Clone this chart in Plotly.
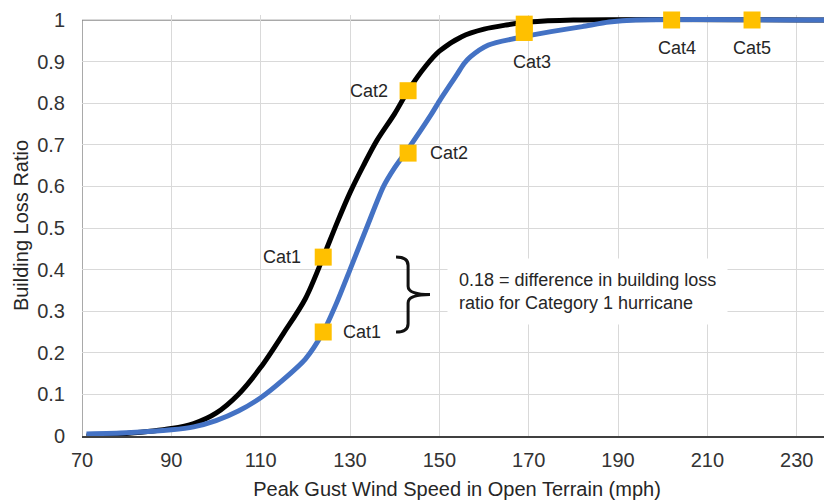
import plotly.graph_objects as go

# ---- data ----
speed_black = [71, 80, 90, 95, 100, 105, 110, 115, 120, 124, 127, 130, 133, 136, 140, 143, 147, 150, 155, 160, 165, 170, 180, 238]
loss_black = [0.0, 0.006, 0.018, 0.03, 0.055, 0.10, 0.165, 0.245, 0.33, 0.43, 0.51, 0.585, 0.65, 0.71, 0.775, 0.83, 0.89, 0.925, 0.96, 0.978, 0.988, 0.995, 1.0, 1.0]

speed_blue = [71, 80, 90, 95, 100, 105, 110, 115, 120, 124, 127, 130, 133.7, 137.5, 140, 143, 148, 150, 154, 155.5, 157, 161, 168, 175, 182, 188, 194, 238]
loss_blue = [0.005, 0.008, 0.015, 0.022, 0.037, 0.06, 0.092, 0.135, 0.185, 0.25, 0.32, 0.40, 0.50, 0.60, 0.645, 0.69, 0.77, 0.805, 0.87, 0.895, 0.912, 0.94, 0.958, 0.972, 0.984, 0.995, 1.0, 1.0]

cat_speed = [124, 143, 169, 202, 220]
cat_loss_black = [0.43, 0.83, 0.99, 1.0, 1.0]
cat_loss_blue = [0.25, 0.68, 0.97]
cat_names = ["Cat1", "Cat2", "Cat3", "Cat4", "Cat5"]

x_ticks = [70, 90, 110, 130, 150, 170, 190, 210, 230]
y_ticks = [0, 0.1, 0.2, 0.3, 0.4, 0.5, 0.6, 0.7, 0.8, 0.9, 1]
y_tick_text = ["0", "0.1", "0.2", "0.3", "0.4", "0.5", "0.6", "0.7", "0.8", "0.9", "1"]

note_text = "0.18 = difference in building loss<br>ratio for Category 1 hurricane"

FONT = "Liberation Sans, Arial, sans-serif"
TXT = "#262626"
X_MAX = 237.9
Y_MAX = 1.012

fig = go.Figure()

fig.add_trace(go.Scatter(x=speed_black, y=loss_black, mode="lines",
                         line=dict(color="#000000", width=5, shape="spline", smoothing=0.9),
                         hoverinfo="skip", showlegend=False))
fig.add_trace(go.Scatter(x=speed_blue, y=loss_blue, mode="lines",
                         line=dict(color="#4472C4", width=5, shape="spline", smoothing=0.7),
                         hoverinfo="skip", showlegend=False))
fig.add_trace(go.Scatter(x=cat_speed, y=cat_loss_black, mode="markers",
                         marker=dict(symbol="square", size=17, color="#FFC000"),
                         cliponaxis=False, hoverinfo="skip", showlegend=False))
fig.add_trace(go.Scatter(x=cat_speed[:3], y=cat_loss_blue, mode="markers",
                         marker=dict(symbol="square", size=17, color="#FFC000"),
                         cliponaxis=False, hoverinfo="skip", showlegend=False))

# category labels
label_specs = [
    (cat_speed[0], cat_loss_black[0], cat_names[0], -41, 0),
    (cat_speed[0], cat_loss_blue[0], cat_names[0], 39, 0),
    (cat_speed[1], cat_loss_black[1], cat_names[1], -39, 0),
    (cat_speed[1], cat_loss_blue[1], cat_names[1], 41, 0),
    (cat_speed[2], cat_loss_blue[2], cat_names[2], 8, -30),
    (cat_speed[3], cat_loss_black[3], cat_names[3], 5, -28),
    (cat_speed[4], cat_loss_black[4], cat_names[4], 0, -28),
]
for x, y, t, xs, ys in label_specs:
    fig.add_annotation(x=x, y=y, text=t, showarrow=False, xshift=xs, yshift=ys,
                       font=dict(family=FONT, size=18, color=TXT))

# brace between Cat1 points
y_top, y_bot = cat_loss_black[0], cat_loss_blue[0]
y_mid = (y_top + y_bot) / 2
xa, xb, xt = 140.3, 143.0, 147.9
d = 0.02
brace = (f"M {xa},{y_top} Q {xb},{y_top} {xb},{y_top-d} "
         f"L {xb},{y_mid+d} Q {xb},{y_mid} {xt},{y_mid} "
         f"Q {xb},{y_mid} {xb},{y_mid-d} "
         f"L {xb},{y_bot+d} Q {xb},{y_bot} {xa},{y_bot}")

fig.add_annotation(x=151.7, y=y_mid + 0.007, xanchor="left", yanchor="middle",
                   text=note_text, showarrow=False, align="left",
                   bgcolor="white", borderpad=11,
                   font=dict(family=FONT, size=18, color=TXT))

# page body has an 8px default margin, so the figure is 8px smaller
fig.update_layout(
    width=824, height=492,
    margin=dict(l=74, r=0, t=7, b=64, autoexpand=False),
    paper_bgcolor="white", plot_bgcolor="white",
    font=dict(family=FONT, color=TXT),
    shapes=[
        dict(type="line", xref="x", yref="y", x0=70, x1=X_MAX, y0=1, y1=1,
             line=dict(color="#8c8c8c", width=1.5), layer="below"),
        dict(type="line", xref="x", yref="y", x0=70, x1=70, y0=0, y1=1,
             line=dict(color="#8c8c8c", width=1.5), layer="below"),
        dict(type="path", xref="x", yref="y", path=brace,
             line=dict(color="#111111", width=3), layer="above"),
    ],
    xaxis=dict(range=[70, X_MAX], tickvals=x_ticks, showgrid=True, automargin=False,
               gridcolor="#d9d9d9", gridwidth=1, zeroline=False,
               showline=True, linecolor="#404040", linewidth=1.5,
               tickfont=dict(family=FONT, size=20, color="#333333"),
               ticklabelstandoff=5,
               title=dict(text="Peak Gust Wind Speed in Open Terrain (mph)",
                          font=dict(family=FONT, size=20, color=TXT))),
    yaxis=dict(range=[0, Y_MAX], tickvals=y_ticks, ticktext=y_tick_text,
               showgrid=True, gridcolor="#d9d9d9", gridwidth=1, zeroline=False,
               showline=False, automargin=False,
               tickfont=dict(family=FONT, size=20, color="#333333"),
               ticklabelstandoff=16,
               title=dict(text="Building Loss Ratio", standoff=3,
                          font=dict(family=FONT, size=20, color=TXT))),
)

fig.write_html("out.html")
